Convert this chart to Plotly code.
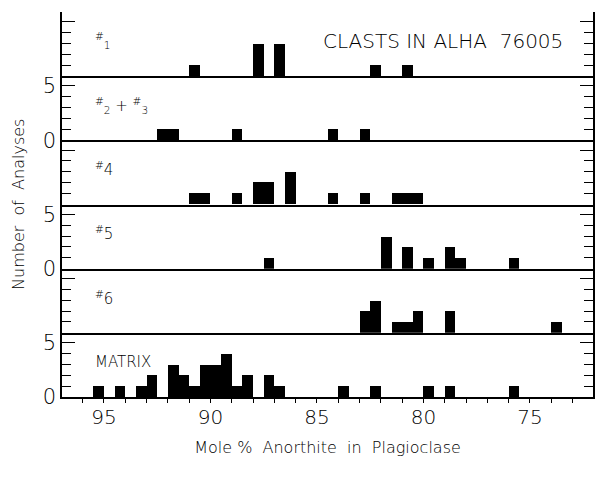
import plotly.graph_objects as go
from plotly.subplots import make_subplots

# ---- data (mole % An bin centres, 0.5 mol% bins) ----
panel_labels = ["<sup>#</sup><sub>1</sub>", "<sup>#</sup><sub>2</sub> + <sup>#</sup><sub>3</sub>",
                "<sup>#</sup>4", "<sup>#</sup>5", "<sup>#</sup>6", "MATRIX"]

clast1_an = [90.75, 87.75, 86.75, 82.25, 80.75]
clast1_n = [1, 3, 3, 1, 1]

clast23_an = [92.25, 91.75, 88.75, 84.25, 82.75]
clast23_n = [1, 1, 1, 1, 1]

clast4_an = [90.75, 90.25, 88.75, 87.75, 87.25, 86.25, 84.25, 82.75, 81.25, 80.75, 80.25]
clast4_n = [1, 1, 1, 2, 2, 3, 1, 1, 1, 1, 1]

clast5_an = [87.25, 81.75, 80.75, 79.75, 78.75, 78.25, 75.75]
clast5_n = [1, 3, 2, 1, 2, 1, 1]

clast6_an = [82.75, 82.25, 81.25, 80.75, 80.25, 78.75, 73.75]
clast6_n = [2, 3, 1, 1, 2, 2, 1]

matrix_an = [95.25, 94.25, 93.25, 92.75, 91.75, 91.25, 90.75, 90.25, 89.75, 89.25,
             88.75, 88.25, 87.25, 86.75, 83.75, 82.25, 79.75, 78.75, 75.75]
matrix_n = [1, 1, 1, 2, 3, 2, 1, 3, 3, 4, 1, 2, 2, 1, 1, 1, 1, 1, 1]

series = [(clast1_an, clast1_n), (clast23_an, clast23_n), (clast4_an, clast4_n),
          (clast5_an, clast5_n), (clast6_an, clast6_n), (matrix_an, matrix_n)]

x_tick_vals = [95, 90, 85, 80, 75]
y_tick_vals = [0, 5]
title_text = "CLASTS IN ALHA  76005"

# ---- figure ----
FONT = "DejaVu Sans, sans-serif"
W = 300
INK = "#000000"
xrange_ = [96.97, 72.04]

def f(size):
    return dict(family=FONT, size=size, color=INK, weight=W)

fig = make_subplots(rows=6, cols=1, shared_xaxes=True, vertical_spacing=0)

for i, (xs, ys) in enumerate(series):
    fig.add_trace(go.Bar(x=xs, y=ys, width=0.5, marker=dict(color="black", line=dict(width=0)),
                         showlegend=False, hoverinfo="x+y"), row=i + 1, col=1)

for i in range(6):
    r = i + 1
    side = "right" if i % 2 == 0 else "left"
    fig.update_yaxes(row=r, col=1, range=[0, 5.9], side=side,
                     tickvals=y_tick_vals, ticks="inside", ticklen=13, tickwidth=1.2, tickcolor=INK,
                     minor=dict(dtick=1, tick0=0, ticks="inside", ticklen=9, tickwidth=1, tickcolor=INK),
                     showline=True, linecolor=INK, linewidth=1.5, mirror="ticks",
                     showgrid=False, zeroline=False, tickfont=f(21))
    xkw = dict(range=xrange_, showline=True, linecolor=INK, linewidth=1.5, mirror=False,
               showgrid=False, zeroline=False)
    if r == 6:
        fig.update_xaxes(row=r, col=1, tickvals=x_tick_vals, ticks="outside", ticklen=4,
                         tickcolor=INK, ticklabelstandoff=-3,
                         minor=dict(dtick=1, tick0=95, ticks="outside", ticklen=4, tickcolor=INK),
                         tickfont=f(20),
                         title=dict(text="Mole %  Anorthite  in  Plagioclase", standoff=14,
                                    font=f(16)),
                         **xkw)
    else:
        fig.update_xaxes(row=r, col=1, ticks="", showticklabels=False, **xkw)

# inward half of the crossing ticks on the bottom axis, and the top frame with inward ticks
fig.update_layout(
    xaxis7=dict(overlaying="x6", anchor="y6", range=xrange_, side="bottom",
                tickvals=x_tick_vals, ticks="inside", ticklen=5, tickcolor=INK,
                minor=dict(dtick=1, tick0=95, ticks="inside", ticklen=5, tickcolor=INK),
                showticklabels=False, showline=False, showgrid=False, zeroline=False),
    xaxis8=dict(overlaying="x", anchor="y", range=xrange_, side="top",
                tickvals=x_tick_vals, ticks="inside", ticklen=6, tickcolor=INK,
                minor=dict(dtick=1, tick0=95, ticks="inside", ticklen=6, tickcolor=INK),
                showticklabels=False, showline=True, linecolor=INK, linewidth=1.5,
                showgrid=False, zeroline=False),
)

# panel labels
for i, lab in enumerate(panel_labels):
    yd = "y domain" if i == 0 else f"y{i + 1} domain"
    xd = "x domain" if i == 0 else f"x{i + 1} domain"
    fig.add_annotation(text=lab, xref=xd, yref=yd, x=0.058, y=0.55, xanchor="left", yanchor="middle",
                       showarrow=False, font=f(15))

fig.add_annotation(text=title_text, xref="x domain", yref="y domain", x=0.947, y=0.55,
                   xanchor="right", yanchor="middle", showarrow=False, font=f(20))

fig.add_annotation(text="Number  of  Analyses", xref="paper", yref="paper", x=-0.082, y=0.5,
                   xanchor="center", yanchor="middle", textangle=-90, showarrow=False,
                   font=f(16))

fig.update_layout(width=605, height=484, template="none",
                  margin=dict(l=54, r=20, t=4, b=95),
                  paper_bgcolor="white", plot_bgcolor="white", bargap=0)

fig.write_html("out.html")
